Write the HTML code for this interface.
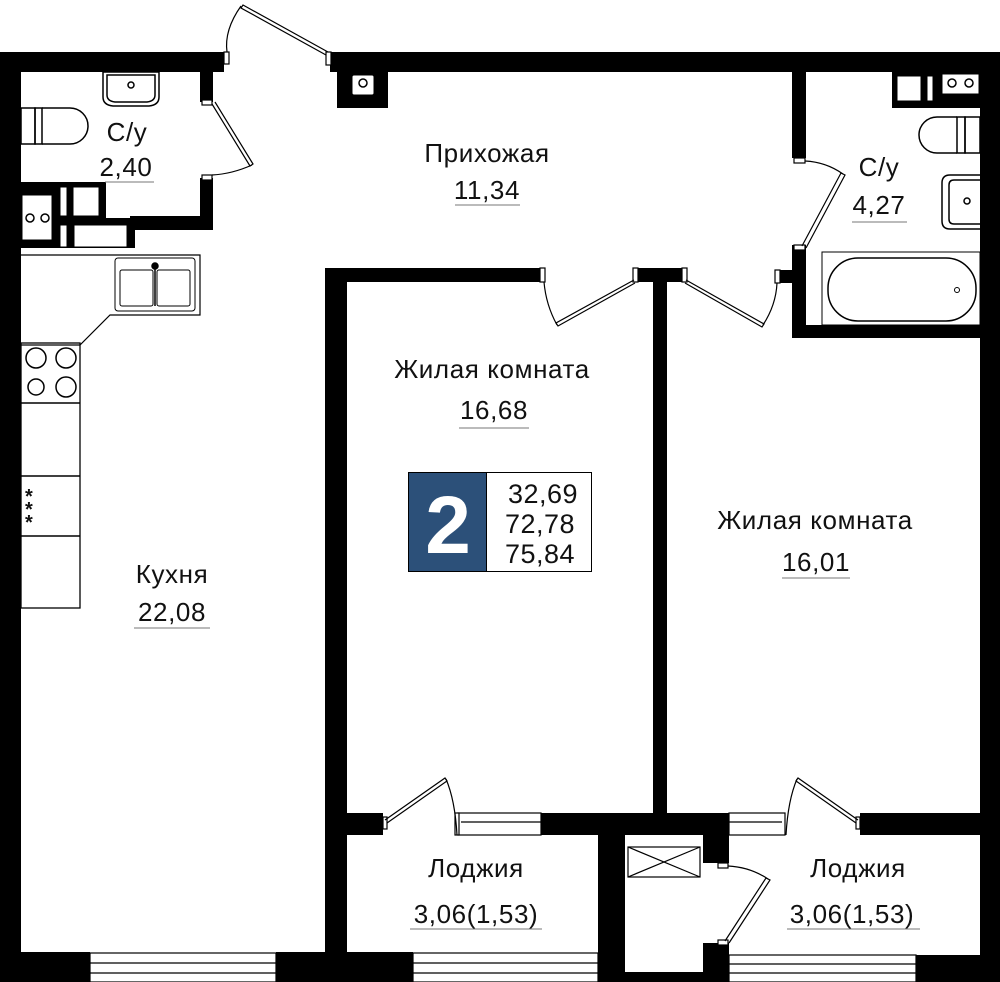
<!DOCTYPE html>
<html><head><meta charset="utf-8"><style>html,body{margin:0;padding:0;background:#fff}svg{display:block}text{font-family:"Liberation Sans",sans-serif;fill:#111}</style></head><body>
<svg width="1000" height="982" viewBox="0 0 1000 982" xmlns="http://www.w3.org/2000/svg">
<g fill="#000">
<rect x="0" y="52" width="224" height="20"/>
<rect x="330" y="52" width="670" height="20"/>
<rect x="0" y="52" width="21" height="930"/>
<rect x="980" y="52" width="20" height="930"/>
<rect x="200" y="72" width="13" height="30"/>
<rect x="200" y="178" width="13" height="52"/>
<rect x="130" y="216" width="83" height="14"/>
<rect x="20" y="182" width="86" height="66"/>
<rect x="100" y="218" width="35" height="30"/>
<rect x="337" y="72" width="51" height="36"/>
<rect x="325" y="268" width="215" height="14"/>
<rect x="325" y="268" width="22" height="714"/>
<rect x="635" y="268" width="48" height="14"/>
<rect x="653" y="268" width="14" height="547"/>
<rect x="792" y="72" width="14" height="86"/>
<rect x="792" y="245" width="14" height="93"/>
<rect x="778" y="270" width="28" height="13"/>
<rect x="792" y="325" width="188" height="13"/>
<rect x="892" y="72" width="88" height="36"/>
<rect x="347" y="813" width="36" height="22"/>
<rect x="541" y="813" width="188" height="22"/>
<rect x="598" y="835" width="27" height="147"/>
<rect x="703" y="835" width="26" height="28"/>
<rect x="703" y="943" width="26" height="39"/>
<rect x="625" y="972" width="78" height="10"/>
<rect x="860" y="813" width="120" height="22"/>
<rect x="0" y="952" width="90" height="30"/>
<rect x="276" y="952" width="137" height="30"/>
<rect x="916" y="955" width="84" height="27"/>
</g>
<g fill="#fff" stroke="#000" stroke-width="1">
<rect x="22" y="195" width="30" height="45"/>
<rect x="60" y="187" width="7" height="29"/>
<rect x="73" y="187" width="26" height="29"/>
<rect x="60" y="225" width="7" height="22"/>
<rect x="74" y="225" width="53" height="22"/>
<rect x="352" y="75" width="22" height="20" rx="2"/>
<rect x="897" y="76" width="24" height="25"/>
<rect x="927" y="76" width="6" height="25"/>
<rect x="942" y="74" width="37" height="20"/>
</g>
<g fill="none" stroke="#000" stroke-width="1.5">
<circle cx="30" cy="218" r="4"/><circle cx="45" cy="218" r="4"/>
<circle cx="363" cy="83" r="4"/>
<circle cx="952" cy="83" r="4"/><circle cx="969" cy="83" r="4"/>
</g>
<g fill="none" stroke="#000" stroke-width="1.5">
<path d="M103 72 h56 v25 q0 8 -10 9 h-36 q-10 -1 -10 -9 z"/>
<path d="M107 75 h48 v20 q0 6 -8 7 h-32 q-8 -1 -8 -7 z"/>
<circle cx="131" cy="85" r="3"/>
<rect x="21" y="108" width="14" height="36"/>
<rect x="35" y="108" width="7" height="36"/>
<path d="M42 108 h28 a18 18 0 0 1 0 36 h-28"/>
<rect x="965" y="117" width="15" height="36"/>
<rect x="957" y="117" width="8" height="36"/>
<path d="M957 117 h-20 a18 18 0 0 0 0 36 h20"/>
<path d="M980 175 h-30 q-8 0 -8 8 v38 q0 8 8 8 h30"/>
<path d="M980 180 h-26 q-5 0 -5 5 v34 q0 5 5 5 h26"/>
<circle cx="967" cy="201" r="3"/>
<rect x="822" y="252" width="158" height="73" stroke-width="1"/>
<rect x="828" y="258" width="148" height="63" rx="30"/>
<circle cx="957" cy="290" r="2.5" stroke-width="1"/>
<path d="M21 255 H200 V315 H110 L80 345 H21" stroke-width="1.2"/>
<rect x="115" y="258" width="80" height="53" rx="3" stroke-width="1"/>
<rect x="120" y="270" width="33" height="36" rx="2" stroke-width="1"/>
<rect x="157" y="270" width="33" height="36" rx="2" stroke-width="1"/>
<line x1="155" y1="264" x2="155" y2="306"/>
<circle cx="155" cy="266" r="3" fill="#000"/>
<rect x="21" y="343" width="59" height="265" stroke-width="1.3"/>
<line x1="21" y1="403" x2="80" y2="403"/><line x1="21" y1="476" x2="80" y2="476"/><line x1="21" y1="536" x2="80" y2="536"/>
<circle cx="36" cy="358" r="10"/><circle cx="66" cy="358" r="10"/><circle cx="36" cy="387" r="8"/><circle cx="66" cy="387" r="10"/>
</g>
<g font-size="20" font-weight="bold"><text x="25" y="503">*</text><text x="25" y="516">*</text><text x="25" y="529">*</text></g>
<g fill="none" stroke="#000" stroke-width="1.2">
<rect x="628" y="847" width="72" height="30"/><line x1="628" y1="847" x2="700" y2="877"/><line x1="700" y1="847" x2="628" y2="877"/>
</g>
<g fill="#fff" stroke="#000" stroke-width="1.2">
<rect x="458" y="813" width="83" height="22"/><line x1="461" y1="822" x2="541" y2="822"/>
<rect x="729" y="813" width="56" height="22"/><line x1="729" y1="822" x2="782" y2="822"/>
<rect x="90" y="953" width="186" height="29"/><line x1="90" y1="963" x2="276" y2="963"/><line x1="90" y1="973" x2="276" y2="973"/>
<rect x="413" y="953" width="185" height="29"/><line x1="413" y1="963" x2="598" y2="963"/><line x1="413" y1="973" x2="598" y2="973"/>
<rect x="729" y="955" width="187" height="27"/><line x1="729" y1="964" x2="916" y2="964"/><line x1="729" y1="973" x2="916" y2="973"/>
</g>
<g fill="none" stroke="#000" stroke-width="1.2">
<rect x="224" y="52" width="5" height="12" fill="#fff"/><rect x="326" y="52" width="5" height="13" fill="#fff"/>
<path d="M328 52 L243 5 L241 8 L326 55"/><path d="M241 6 Q224 30 227 52"/>
<rect x="202" y="100" width="10" height="5" fill="#fff"/><rect x="202" y="175" width="10" height="5" fill="#fff"/>
<path d="M212 104 L250 166 L253 164 L215 102"/><path d="M252 165 Q232 174 212 175"/>
<rect x="540" y="268" width="5" height="14" fill="#fff"/><rect x="633" y="268" width="5" height="14" fill="#fff"/><rect x="682" y="268" width="5" height="14" fill="#fff"/><rect x="775" y="270" width="5" height="13" fill="#fff"/>
<path d="M634 280 L556 323 L558 326 L635 283"/><path d="M557 325 Q546 305 544 282"/>
<path d="M686 280 L764 324 L762 327 L685 283"/><path d="M763 325 Q776 305 777 283"/>
<rect x="794" y="158" width="11" height="5" fill="#fff"/><rect x="794" y="245" width="11" height="5" fill="#fff"/>
<path d="M802 246 L841 173 L845 175 L806 248"/><path d="M843 174 Q826 162 805 161"/>
<rect x="383" y="817" width="4" height="12" fill="#fff"/><rect x="455" y="813" width="4" height="22" fill="#fff"/>
<path d="M385 820 L445 778 L447 781 L387 823"/><path d="M446 779 Q455 800 457 835"/>
<rect x="856" y="817" width="4" height="12" fill="#fff"/>
<path d="M858 820 L798 778 L796 781 L856 823"/><path d="M797 779 Q788 800 786 835"/>
<rect x="718" y="863" width="10" height="5" fill="#fff"/><rect x="718" y="940" width="10" height="5" fill="#fff"/>
<path d="M725 941 L766 878 L770 880 L729 943"/><path d="M768 879 Q750 867 728 866"/>
</g>
<g font-size="26" text-anchor="middle" letter-spacing="0.6">
<text x="127" y="141">С/у</text><text x="126" y="176">2,40</text>
<text x="487" y="162">Прихожая</text><text x="487" y="199">11,34</text>
<text x="879" y="176">С/у</text><text x="879" y="214">4,27</text>
<text x="492" y="378">Жилая комната</text><text x="494" y="419">16,68</text>
<text x="815" y="529">Жилая комната</text><text x="816" y="571">16,01</text>
<text x="172" y="583">Кухня</text><text x="172" y="621">22,08</text>
<text x="476" y="877">Лоджия</text><text x="476" y="923">3,06(1,53)</text>
<text x="858" y="877">Лоджия</text><text x="852" y="923">3,06(1,53)</text>
</g>
<g stroke="#777" stroke-width="1">
<line x1="105" y1="182" x2="154" y2="182"/><line x1="455" y1="205" x2="520" y2="205"/>
<line x1="852" y1="222" x2="907" y2="222"/><line x1="459" y1="428" x2="529" y2="428"/>
<line x1="782" y1="578" x2="850" y2="578"/><line x1="134" y1="628" x2="210" y2="628"/>
<line x1="410" y1="929" x2="542" y2="929"/><line x1="787" y1="929" x2="920" y2="929"/>
</g>
<rect x="408.5" y="472.5" width="183" height="99" fill="#fff" stroke="#000"/>
<rect x="408.5" y="472.5" width="78" height="99" fill="#2c5079" stroke="#000"/>
<text x="448" y="553" font-size="82" font-weight="bold" text-anchor="middle" style="fill:#fff">2</text>
<g font-size="27" text-anchor="middle" letter-spacing="0.5"><text x="543" y="503">32,69</text><text x="540" y="533">72,78</text><text x="540" y="563">75,84</text></g>
</svg>
</body></html>
